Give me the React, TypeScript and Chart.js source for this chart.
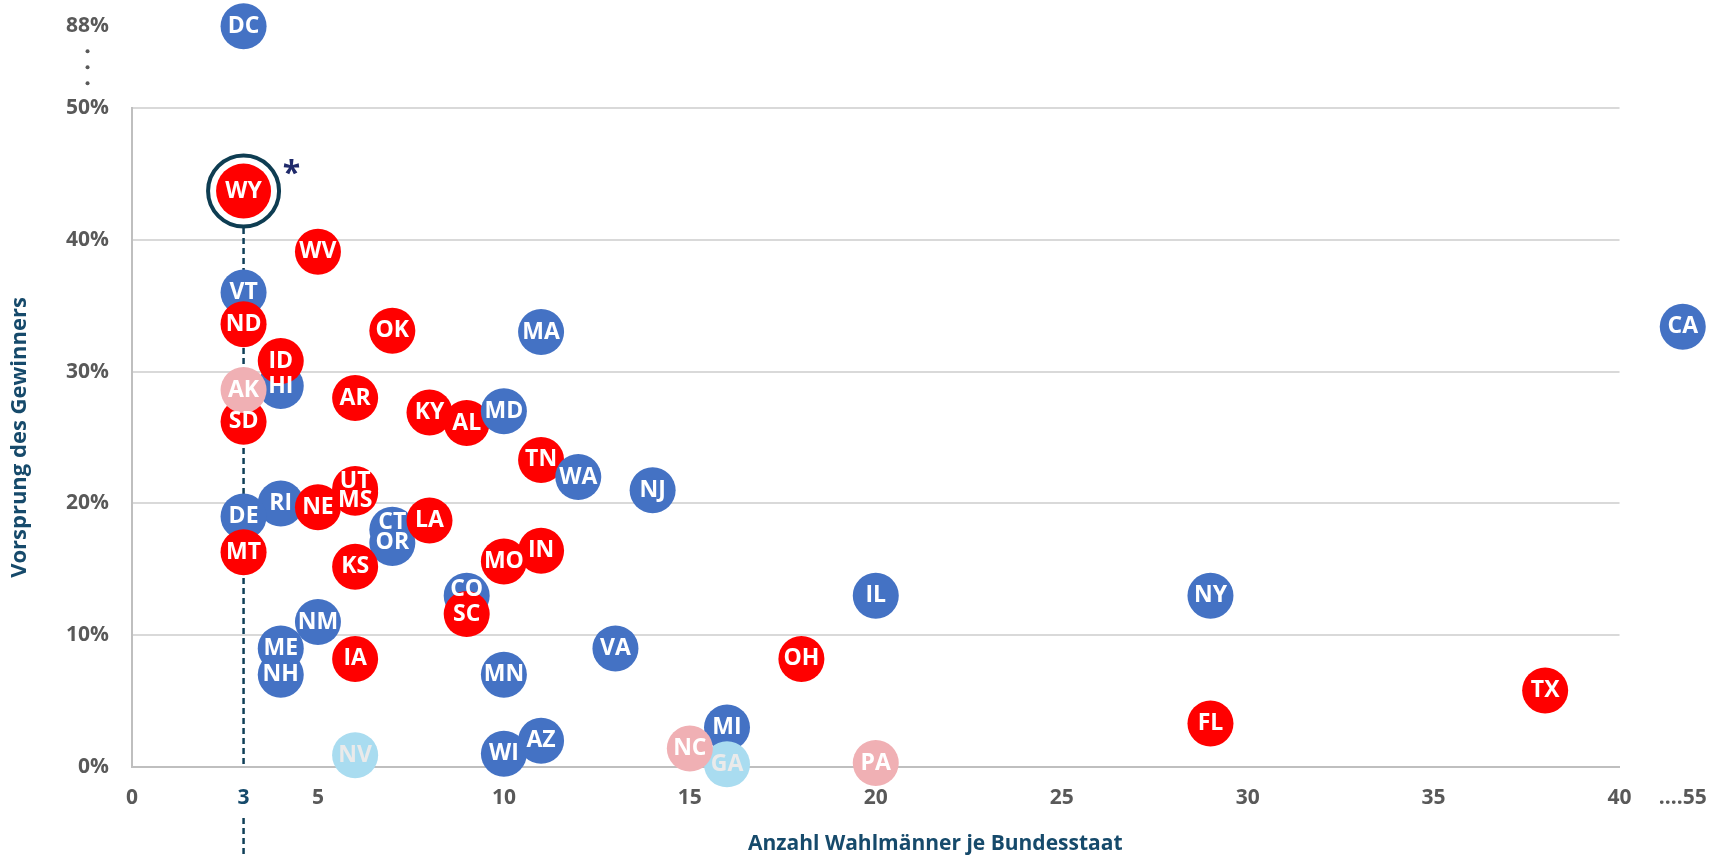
import React, { useEffect, useRef } from 'react';
import { Chart, registerables } from 'chart.js';

Chart.register(...registerables);

// ---------- DATA (drawing order: later entries sit on top) ----------
const states = [
  'DC', 'WY', 'WV', 'VT', 'ND', 'OK', 'MA', 'CA', 'HI', 'SD', 'AK', 'ID', 'AR', 'KY', 'AL', 'MD',
  'TN', 'WA', 'NJ', 'RI', 'DE', 'MT', 'UT', 'MS', 'NE', 'CT', 'OR', 'LA', 'KS', 'MO', 'IN', 'CO',
  'SC', 'IL', 'NY', 'NH', 'ME', 'NM', 'IA', 'MN', 'VA', 'OH', 'TX', 'FL', 'WI', 'AZ', 'MI', 'GA',
  'NC', 'PA', 'NV',
];
const electors = [
  3, 3, 5, 3, 3, 7, 11, 55, 4, 3, 3, 4, 6, 8, 9, 10,
  11, 12, 14, 4, 3, 3, 6, 6, 5, 7, 7, 8, 6, 10, 11, 9,
  9, 20, 29, 4, 4, 5, 6, 10, 13, 18, 38, 29, 10, 11, 16, 16,
  15, 20, 6,
];
const margins = [
  88, 43.7, 39.1, 36.0, 33.6, 33.1, 33.0, 33.4, 28.9, 26.2, 28.6, 30.8, 28.0, 26.9, 26.1, 27.0,
  23.3, 22.0, 21.0, 20.0, 19.0, 16.3, 21.1, 20.8, 19.7, 18.0, 17.0, 18.7, 15.2, 15.6, 16.4, 13.0,
  11.6, 13.0, 13.0, 7.0, 9.0, 11.0, 8.2, 7.0, 9.0, 8.2, 5.8, 3.3, 1.0, 2.0, 3.0, 0.2,
  1.4, 0.3, 0.9,
];
// D = Demokraten, R = Republikaner, Rl / Dl = knapp / hell markiert
const winners = [
  'D', 'R', 'R', 'D', 'R', 'R', 'D', 'D', 'D', 'R', 'Rl', 'R', 'R', 'R', 'R', 'D',
  'R', 'D', 'D', 'D', 'D', 'R', 'R', 'R', 'R', 'D', 'D', 'R', 'R', 'R', 'R', 'D',
  'R', 'D', 'D', 'D', 'D', 'D', 'R', 'D', 'D', 'R', 'R', 'R', 'D', 'D', 'D', 'Dl',
  'Rl', 'Rl', 'Dl',
];

const X_MIN = 0;
const X_MAX = 40;
const X_STEP = 5;
const Y_MIN = 0;
const Y_MAX = 50;
const Y_STEP = 10;
const HIGHLIGHT_X = 3;
const HIGHLIGHT_STATE = 'WY';
const X_AXIS_TITLE = 'Anzahl Wahlmänner je Bundesstaat';
const Y_AXIS_TITLE = 'Vorsprung des Gewinners';

// broken-axis display positions for values beyond the axis range
const X_BREAK_POS = 41.7;
const Y_BREAK_POS = 56.2;

// ---------- STYLE ----------
const FONT = "'Open Sans', 'DejaVu Sans', sans-serif";
const GRAY = '#595959';
const TEAL = '#164A6B';
const COLORS: Record<string, string> = {
  D: '#4472C4',
  R: '#FF0000',
  Rl: '#F0B0B4',
  Dl: '#A9DCF0',
};
const LABEL_NUDGE: Record<string, number> = { UT: -7, MS: 8, CT: -7, CO: -6 };
const X_TITLE_CENTER = 21.6;

const toX = (v: number) => (v > X_MAX ? X_BREAK_POS : v);
const toY = (v: number) => (v > Y_MAX ? Y_BREAK_POS : v);

export default function App() {
  const ref = useRef<HTMLCanvasElement>(null);

  useEffect(() => {
    const canvas = ref.current;
    if (!canvas) return;
    const pts = states.map((_, i) => ({ x: toX(electors[i]), y: toY(margins[i]) }));
    const hiIdx = states.indexOf(HIGHLIGHT_STATE);
    const xBreakLabel = '....' + Math.max(...electors.filter((e) => e > X_MAX));
    const yBreakLabel = Math.max(...margins.filter((m) => m > Y_MAX)) + '%';

    const deco = {
      id: 'deco',
      beforeDatasetsDraw(chart: any) {
        const { ctx, chartArea } = chart;
        const xs = chart.scales.x;
        const meta = chart.getDatasetMeta(0);
        const el = meta.data[hiIdx];
        const x = xs.getPixelForValue(HIGHLIGHT_X);
        ctx.save();
        ctx.strokeStyle = '#0F3F58';
        ctx.lineWidth = 2.5;
        ctx.setLineDash([6, 4]);
        ctx.beginPath();
        ctx.moveTo(x, el.y + 37);
        ctx.lineTo(x, chartArea.bottom);
        ctx.moveTo(x, chartArea.bottom + 51);
        ctx.lineTo(x, chart.height);
        ctx.stroke();
        ctx.restore();
        // let the points beyond the axis break (DC, CA) be drawn outside the plot area
        chart.$savedArea = chart.chartArea;
        chart.chartArea = {
          left: 0,
          top: 0,
          right: chart.width,
          bottom: chart.height,
          width: chart.width,
          height: chart.height,
        };
      },
      afterDatasetsDraw(chart: any) {
        if (chart.$savedArea) {
          chart.chartArea = chart.$savedArea;
          chart.$savedArea = null;
        }
        const { ctx } = chart;
        const meta = chart.getDatasetMeta(0);
        ctx.save();
        ctx.font = `bold 23px ${FONT}`;
        ctx.textAlign = 'center';
        ctx.textBaseline = 'middle';
        meta.data.forEach((el: any, i: number) => {
          const s = states[i];
          ctx.fillStyle = winners[i] === 'Dl' ? '#EAEAEA' : '#FFFFFF';
          ctx.fillText(s, el.x, el.y + (LABEL_NUDGE[s] || 0));
        });
        // asterisk next to highlighted state
        const hi = meta.data[hiIdx];
        ctx.font = `bold 32px ${FONT}`;
        ctx.fillStyle = '#1F2A6B';
        ctx.textBaseline = 'alphabetic';
        ctx.fillText('*', hi.x + 48, hi.y - 7);
        ctx.restore();
      },
      afterDraw(chart: any) {
        const { ctx, chartArea } = chart;
        const ys = chart.scales.y;
        const xs = chart.scales.x;
        ctx.save();
        // dots between 50% and the break label
        ctx.font = `bold 21px ${FONT}`;
        const w = ctx.measureText(yBreakLabel).width;
        const cx = ys.right - 23 - w / 2;
        const mid = (ys.getPixelForValue(Y_MAX) + ys.getPixelForValue(Y_BREAK_POS)) / 2;
        ctx.fillStyle = GRAY;
        for (let k = -1; k <= 1; k++) {
          ctx.beginPath();
          ctx.arc(cx, mid + k * 16, 2, 0, Math.PI * 2);
          ctx.fill();
        }
        // x axis title
        ctx.font = `bold 21px ${FONT}`;
        ctx.fillStyle = TEAL;
        ctx.textAlign = 'center';
        ctx.textBaseline = 'middle';
        ctx.fillText(X_AXIS_TITLE, xs.getPixelForValue(X_TITLE_CENTER), chartArea.bottom + 77);
        ctx.restore();
      },
    };

    const chart = new Chart(canvas, {
      type: 'scatter',
      data: {
        datasets: [
          {
            label: 'Bundesstaaten',
            data: pts,
            order: 0,
            pointRadius: states.map((s) => (s === HIGHLIGHT_STATE ? 27.5 : 23)),
            pointHoverRadius: states.map((s) => (s === HIGHLIGHT_STATE ? 27.5 : 23)),
            pointBackgroundColor: winners.map((w) => COLORS[w]),
            pointHoverBackgroundColor: winners.map((w) => COLORS[w]),
            pointBorderWidth: 0,
            pointHoverBorderWidth: 0,
            clip: false,
          } as any,
          {
            label: 'Markierung',
            data: [pts[hiIdx]],
            order: 1,
            pointRadius: 35.5,
            pointHoverRadius: 35.5,
            pointBackgroundColor: '#FFFFFF',
            pointBorderColor: '#0E3D52',
            pointBorderWidth: 4,
            pointHoverBorderWidth: 4,
            clip: false,
          } as any,
        ],
      },
      options: {
        animation: false,
        responsive: true,
        maintainAspectRatio: false,
        events: [],
        layout: { padding: { top: 108, right: 88, left: 0, bottom: 0 } },
        plugins: {
          legend: { display: false },
          tooltip: { enabled: false },
        },
        scales: {
          x: {
            type: 'linear',
            position: 'bottom',
            min: X_MIN,
            max: X_MAX,
            grid: { display: false, drawTicks: false },
            border: { display: true, color: '#BFBFBF', width: 2 },
            ticks: {
              stepSize: X_STEP,
              autoSkip: false,
              maxRotation: 0,
              padding: 18,
              font: { family: FONT, size: 21, weight: 'bold' },
              color: (c: any) => (c.tick && c.tick.value === HIGHLIGHT_X ? TEAL : GRAY),
              callback: (v: any) => (v === X_BREAK_POS ? xBreakLabel : String(v)),
            },
            afterBuildTicks: (s: any) => {
              s.ticks = [...s.ticks, { value: HIGHLIGHT_X }, { value: X_BREAK_POS }].sort(
                (a: any, b: any) => a.value - b.value,
              );
            },
            afterFit: (s: any) => {
              s.height = 89;
            },
          },
          y: {
            type: 'linear',
            min: Y_MIN,
            max: Y_MAX,
            grid: {
              drawTicks: false,
              lineWidth: 2,
              color: (c: any) =>
                c.tick && c.tick.value > Y_MIN && c.tick.value <= Y_MAX ? '#D9D9D9' : 'rgba(0,0,0,0)',
            },
            border: { display: true, color: '#BFBFBF', width: 2 },
            ticks: {
              stepSize: Y_STEP,
              autoSkip: false,
              padding: 23,
              font: { family: FONT, size: 21, weight: 'bold' },
              color: GRAY,
              callback: (v: any) => (v === Y_BREAK_POS ? yBreakLabel : v + '%'),
            },
            afterBuildTicks: (s: any) => {
              s.ticks = [...s.ticks, { value: Y_BREAK_POS }];
            },
            afterFit: (s: any) => {
              s.width = 132;
            },
            title: {
              display: true,
              text: Y_AXIS_TITLE,
              color: TEAL,
              font: { family: FONT, size: 22, weight: 'bold' },
              padding: { top: 7, bottom: 0 },
            },
          },
        },
      } as any,
      plugins: [deco],
    });
    return () => chart.destroy();
  }, []);

  return (
    <div style={{ position: 'fixed', left: 0, top: 0, width: 1721, height: 856, background: '#fff' }}>
      <canvas ref={ref} />
    </div>
  );
}
